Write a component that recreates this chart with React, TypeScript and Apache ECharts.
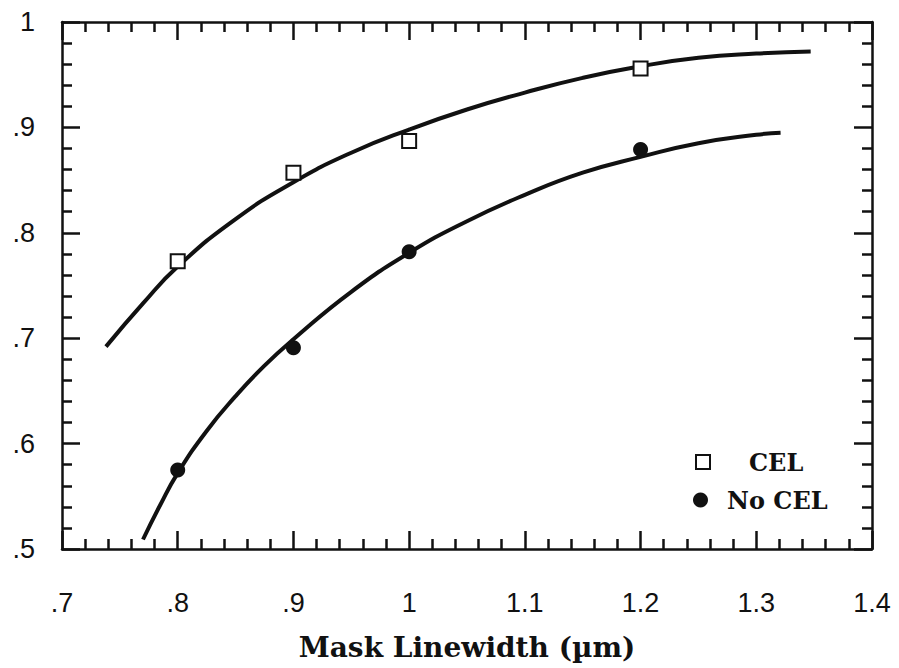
import React, { useEffect, useRef } from "react";
import * as echarts from "echarts";

// Axis ranges and tick labels
const X_MIN = 0.7;
const X_MAX = 1.4;
const X_STEP = 0.1;
const Y_MIN = 0.5;
const Y_MAX = 1.0;
const Y_STEP = 0.1;
const xTickLabels = [".7", ".8", ".9", "1", "1.1", "1.2", "1.3", "1.4"];
const yTickLabels = [".5", ".6", ".7", ".8", ".9", "1"];

// Measured points
const celX = [0.8, 0.9, 1.0, 1.2];
const celY = [0.773, 0.857, 0.887, 0.956];
const noCelX = [0.8, 0.9, 1.0, 1.2];
const noCelY = [0.575, 0.691, 0.782, 0.879];

// Fitted curves
const celFitX = [0.738, 0.77, 0.8, 0.85, 0.9, 0.95, 1.0, 1.05, 1.1, 1.15, 1.2, 1.25, 1.3, 1.347];
const celFitY = [0.692, 0.733, 0.768, 0.813, 0.848, 0.876, 0.898, 0.917, 0.933, 0.947, 0.958, 0.966, 0.97, 0.972];
const noCelFitX = [0.77, 0.785, 0.8, 0.825, 0.85, 0.875, 0.9, 0.95, 1.0, 1.05, 1.1, 1.15, 1.2, 1.25, 1.3, 1.321];
const noCelFitY = [0.509, 0.542, 0.572, 0.612, 0.645, 0.674, 0.699, 0.744, 0.781, 0.811, 0.836, 0.857, 0.872, 0.885, 0.893, 0.895];

const zip = (xs: number[], ys: number[]) => xs.map((x, i) => [x, ys[i]]);

const INK = "#111";
const tickFont = "'Liberation Sans', Arial, sans-serif";
const serifBold = "'DejaVu Serif', serif";

export default function App() {
  const ref = useRef<HTMLDivElement>(null);

  useEffect(() => {
    if (!ref.current) return;
    const chart = echarts.init(ref.current, undefined, { renderer: "svg" });

    const frameAxis = {
      type: "value" as const,
      axisLine: { show: true, onZero: false, lineStyle: { color: INK, width: 2.5 } },
      axisTick: { show: true, inside: true, length: 18, lineStyle: { color: INK, width: 2.5 } },
      minorTick: { show: true, splitNumber: 5, length: 10, lineStyle: { color: INK, width: 2.5 } },
      splitLine: { show: false },
      minorSplitLine: { show: false },
    };

    const xBase = { ...frameAxis, min: X_MIN, max: X_MAX, interval: X_STEP };
    const yBase = { ...frameAxis, min: Y_MIN, max: Y_MAX, interval: Y_STEP };

    const fitLine = (name: string, xs: number[], ys: number[]) => ({
      name,
      type: "line",
      data: zip(xs, ys),
      smooth: 0.5,
      showSymbol: false,
      symbol: "none",
      lineStyle: { color: INK, width: 4 },
      z: 2,
    });

    chart.setOption({
      animation: false,
      backgroundColor: "#fff",
      grid: { left: 62, right: 27, top: 22, bottom: 119 },
      xAxis: [
        {
          ...xBase,
          position: "bottom",
          name: "Mask Linewidth (\u00b5m)",
          nameLocation: "middle",
          nameGap: 84,
          nameTextStyle: { fontFamily: serifBold, fontWeight: "bold", fontSize: 28, color: INK },
          axisLabel: {
            show: true,
            margin: 40,
            fontFamily: tickFont,
            fontSize: 27,
            color: INK,
            formatter: (v: number) => xTickLabels[Math.round((v - X_MIN) / X_STEP)] ?? "",
          },
        },
        { ...xBase, position: "top", axisLabel: { show: false } },
      ],
      yAxis: [
        {
          ...yBase,
          position: "left",
          axisLabel: {
            show: true,
            margin: 27,
            fontFamily: tickFont,
            fontSize: 27,
            color: INK,
            formatter: (v: number) => yTickLabels[Math.round((v - Y_MIN) / Y_STEP)] ?? "",
          },
        },
        { ...yBase, position: "right", axisLabel: { show: false } },
      ],
      legend: [
        {
          left: 695,
          top: 450,
          padding: 0,
          itemWidth: 14,
          itemHeight: 14,
          data: [
            {
              name: "CEL",
              icon: "rect",
              itemStyle: { color: "#fff", borderColor: INK, borderWidth: 2 },
            },
          ],
          textStyle: { fontFamily: serifBold, fontWeight: "bold", fontSize: 24, color: INK, padding: [0, 0, 0, 34] },
        },
        {
          left: 693,
          top: 488,
          padding: 0,
          itemWidth: 15,
          itemHeight: 15,
          data: [{ name: "No CEL", icon: "circle", itemStyle: { color: INK } }],
          textStyle: { fontFamily: serifBold, fontWeight: "bold", fontSize: 24, color: INK, padding: [0, 0, 0, 14] },
        },
      ],
      series: [
        fitLine("CEL fit", celFitX, celFitY),
        fitLine("No CEL fit", noCelFitX, noCelFitY),
        {
          name: "CEL",
          type: "scatter",
          data: zip(celX, celY),
          symbol: "rect",
          symbolSize: 14,
          itemStyle: { color: "#fff", borderColor: INK, borderWidth: 2, opacity: 1 },
          z: 3,
        },
        {
          name: "No CEL",
          type: "scatter",
          data: zip(noCelX, noCelY),
          symbol: "circle",
          symbolSize: 15,
          itemStyle: { color: INK, opacity: 1 },
          z: 3,
        },
      ],
    });

    return () => chart.dispose();
  }, []);

  return (
    <div
      ref={ref}
      style={{ position: "fixed", left: 0, top: 0, width: 899, height: 668, background: "#fff" }}
    />
  );
}
